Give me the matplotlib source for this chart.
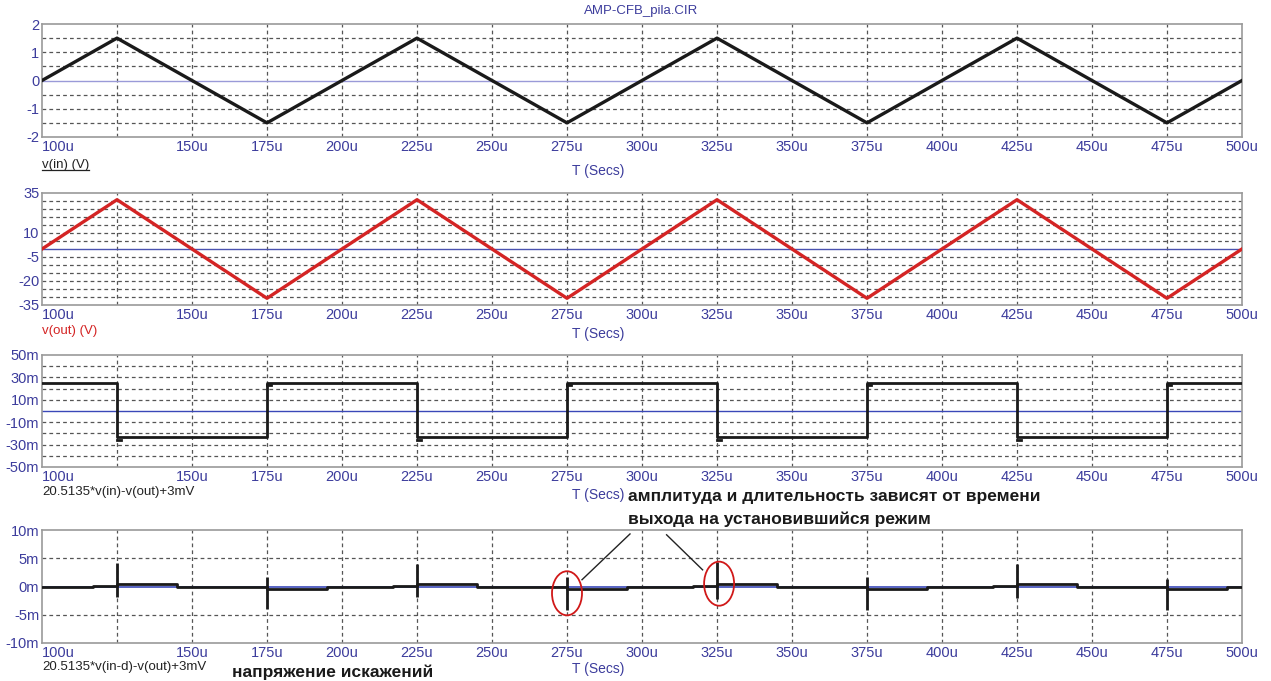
import matplotlib
matplotlib.use('Agg')
import matplotlib.pyplot as plt
import numpy as np
from matplotlib.patches import Ellipse
from matplotlib.lines import Line2D

plt.rcParams['font.family'] = ['Liberation Sans', 'DejaVu Sans']
plt.rcParams['axes.unicode_minus'] = False

# time axis (microseconds)
x_ticks = [100, 150, 175, 200, 225, 250, 275, 300, 325, 350, 375, 400, 425, 450, 475, 500]
x_grid = [125, 150, 175, 200, 225, 250, 275, 300, 325, 350, 375, 400, 425, 450, 475]

# v(in): triangle corners
t_tri = [100, 125, 175, 225, 275, 325, 375, 425, 475, 500]
v_in = [0, 1.5, -1.5, 1.5, -1.5, 1.5, -1.5, 1.5, -1.5, 0]
# v(out): same corners, gain ~20.5
v_out = [0, 30.8, -30.8, 30.8, -30.8, 30.8, -30.8, 30.8, -30.8, 0]

# error signal 20.5135*v(in)-v(out)+3mV, in mV
edges = [125, 175, 225, 275, 325, 375, 425, 475]
err_levels = [25, -23, 25, -23, 25, -23, 25, -23, 25]

# distortion spikes at each edge, in mV
spike_hi = [4.1, 1.7, 4.0, 1.6, 4.4, 1.6, 4.0, 1.4]
spike_lo = [-1.8, -3.9, -1.8, -4.1, -2.2, -4.1, -2.0, -4.1]
settle_off = [0.4, -0.5, 0.4, -0.5, 0.4, -0.5, 0.4, -0.5]

BLUE = '#3c3c9c'
GRID = '#555555'

fig = plt.figure(figsize=(12.71, 6.81), dpi=100)
W, H = 1271, 681


def add_panel(top, bottom):
    ax = fig.add_axes([42 / W, 1 - bottom / H, 1200 / W, (bottom - top) / H])
    ax.set_xlim(100, 500)
    for s in ax.spines.values():
        s.set_color('#9a9a9a')
        s.set_linewidth(1.2)
    ax.tick_params(length=0, colors=BLUE, labelsize=10.5, pad=2)
    ax.set_xticks(x_ticks)
    ax.set_xticklabels([f'{v}u' for v in x_ticks])
    ax.get_xticklabels()[0].set_horizontalalignment('left')
    for lab in ax.get_xticklabels() + ax.get_yticklabels():
        lab.set_color(BLUE)
    for xg in x_grid:
        ax.axvline(xg, color=GRID, lw=0.9, ls=(0, (3, 2.5)), zorder=1)
    return ax


# panel 1: v(in)
ax1 = add_panel(24, 137)
ax1.set_ylim(-2, 2)
ax1.set_yticks([2, 1, 0, -1, -2])
for yg in [1.5, 1, 0.5, -0.5, -1, -1.5]:
    ax1.axhline(yg, color=GRID, lw=0.9, ls=(0, (3, 2.5)), zorder=1)
ax1.axhline(0, color='#9a9ad8', lw=1.0, zorder=2)
ax1.plot(t_tri, v_in, color='#1a1a1a', lw=2.4, zorder=3)

# panel 2: v(out)
ax2 = add_panel(193, 305)
ax2.set_ylim(-35, 35)
ax2.set_yticks([35, 10, -5, -20, -35])
for yg in np.arange(-30, 31, 5):
    if yg != 0:
        ax2.axhline(yg, color=GRID, lw=0.9, ls=(0, (3, 2.5)), zorder=1)
ax2.axhline(0, color='#4a52b0', lw=1.0, zorder=2)
ax2.plot(t_tri, v_out, color='#d42424', lw=2.4, zorder=3)

# panel 3: error square wave
ax3 = add_panel(355, 467)
ax3.set_ylim(-50, 50)
ax3.set_yticks([50, 30, 10, -10, -30, -50])
ax3.set_yticklabels(['50m', '30m', '10m', '-10m', '-30m', '-50m'])
for yg in [40, 30, 20, 10, -10, -20, -30, -40]:
    ax3.axhline(yg, color=GRID, lw=0.9, ls=(0, (3, 2.5)), zorder=1)
ax3.axhline(0, color='#3a48b8', lw=1.0, zorder=2)
sq_t = np.repeat([100] + edges + [500], 2)[1:-1]
sq_v = np.repeat(err_levels, 2)
ax3.plot(sq_t, sq_v, color='#1a1a1a', lw=2.0, zorder=3)
# small overshoots right after each edge
for e, lvl in zip(edges, err_levels[1:]):
    ax3.plot([e, e + 1.2], [lvl - 3 if lvl < 0 else lvl - 1.5] * 2, color='#1a1a1a', lw=2.0, zorder=3)

# panel 4: distortion voltage
ax4 = add_panel(530, 643)
ax4.set_ylim(-10, 10)
ax4.set_yticks([10, 5, 0, -5, -10])
ax4.set_yticklabels(['10m', '5m', '0m', '-5m', '-10m'])
for yg in [5, -5]:
    ax4.axhline(yg, color=GRID, lw=0.9, ls=(0, (3, 2.5)), zorder=1)
ax4.axhline(0, color='#3a48b8', lw=1.2, zorder=2)
tr_t = [100]
tr_v = [0]
for e, off in zip(edges, settle_off):
    tr_t += [e - 8, e - 8, e, e, e + 20, e + 20]
    tr_v += [0, 0.15 * np.sign(off), 0.15 * np.sign(off), off, off, 0]
tr_t.append(500)
tr_v.append(0)
ax4.plot(tr_t, tr_v, color='#1a1a1a', lw=2.0, zorder=3)
ax4.vlines(edges, spike_lo, spike_hi, color='#1a1a1a', lw=2.0, zorder=4)

# red ellipses and pointer lines
for cx, cy in [(275, -1.2), (325.7, 0.5)]:
    ax4.add_patch(Ellipse((cx, cy), 10, 7.8, fill=False, ec='#d01818', lw=1.3, zorder=5))
ax4.plot([296, 280], [9.3, 1.2], color='#222222', lw=1.0, clip_on=False, zorder=5)
ax4.plot([308.2, 320.2], [9.15, 2.95], color='#222222', lw=1.0, clip_on=False, zorder=5)


def ftext(x, y, s, **kw):
    return fig.text(x / W, 1 - y / H, s, va='center', **kw)


ftext(641, 11, 'AMP-CFB_pila.CIR', ha='center', color=BLUE, fontsize=9.5)
for y in [171, 334, 495, 669]:
    ftext(598, y, 'T (Secs)', ha='center', color=BLUE, fontsize=10)

lab1 = ftext(42, 165, 'v(in) (V)', ha='left', color='#222222', fontsize=9.5)
ftext(42, 331, 'v(out) (V)', ha='left', color='#d42424', fontsize=9.5)
ftext(42, 492, '20.5135*v(in)-v(out)+3mV', ha='left', color='#222222', fontsize=9.5)
ftext(42, 667, '20.5135*v(in-d)-v(out)+3mV', ha='left', color='#222222', fontsize=9.5)

ftext(628, 496, 'амплитуда и длительность зависят от времени', ha='left',
      color='#1a1a1a', fontsize=12.5, fontweight='bold')
ftext(628, 519, 'выхода на установившийся режим', ha='left',
      color='#1a1a1a', fontsize=12.5, fontweight='bold')
ftext(232, 672, 'напряжение искажений', ha='left',
      color='#1a1a1a', fontsize=12.5, fontweight='bold')

# underline for the first trace label
fig.canvas.draw()
bb = lab1.get_window_extent().transformed(fig.transFigure.inverted())
fig.add_artist(Line2D([bb.x0, bb.x1], [bb.y0 + 0.001, bb.y0 + 0.001],
                      color='#222222', lw=0.9, transform=fig.transFigure))

fig.savefig('out.png', dpi=100)
